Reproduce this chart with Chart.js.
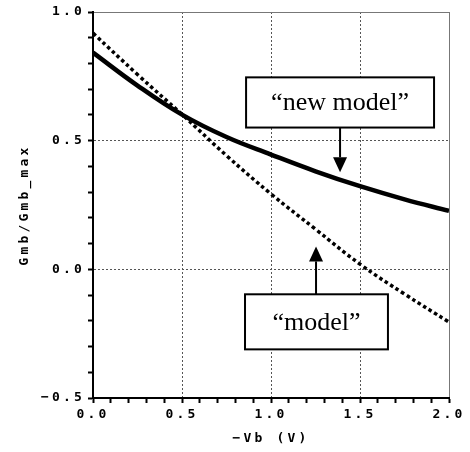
<!DOCTYPE html>
<html><head><meta charset="utf-8">
<script src="https://cdn.jsdelivr.net/npm/chart.js@4"></script>
<style>html,body{margin:0;padding:0;background:#fff}</style>
</head><body>
<canvas id="c" width="470" height="452"></canvas>
<script>
// ---- data ----
const vb = [0, 0.25, 0.5, 0.75, 1.0, 1.25, 1.5, 1.75, 2.0];
const newModel = [0.842, 0.714, 0.601, 0.514, 0.446, 0.381, 0.323, 0.272, 0.227];
const model = [0.918, 0.757, 0.602, 0.442, 0.293, 0.156, 0.020, -0.096, -0.205];
const xTickLabels = ['0.0', '0.5', '1.0', '1.5', '2.0'];
const yTickLabels = ['\u22120.5', '0.0', '0.5', '1.0'];
const seriesNames = ['“new model”', '“model”'];
const xTitle = '\u2212Vb (V)';
const yTitle = 'Gmb/Gmb_max';

// callout annotations (in data units)
const callouts = [
  {text: seriesNames[0], x0: 0.86, x1: 1.916, y0: 0.746, y1: 0.551, ax: 1.388, tip: 0.377},
  {text: seriesNames[1], x0: 0.854, x1: 1.657, y0: -0.097, y1: -0.311, ax: 1.253, tip: 0.089}
];

const MONO = '"DejaVu Sans Mono", monospace';
const isMajor = v => Math.abs(v * 2 - Math.round(v * 2)) < 1e-6;
const fmt = v => { const t = (Math.abs(v) < 1e-9 ? 0 : v).toFixed(1); return t.replace('-', '\u2212'); };

const spacing = {
  id: 'spacing',
  beforeLayout(chart) { chart.ctx.letterSpacing = '3.2px'; },
  beforeDraw(chart) { chart.ctx.letterSpacing = '3.2px'; }
};

const calloutPlugin = {
  id: 'callouts',
  afterDatasetsDraw(chart) {
    const ctx = chart.ctx, xs = chart.scales.x, ys = chart.scales.y;
    ctx.save();
    ctx.letterSpacing = '0px';
    for (const c of callouts) {
      const bx0 = xs.getPixelForValue(c.x0), bx1 = xs.getPixelForValue(c.x1);
      const by0 = ys.getPixelForValue(c.y0), by1 = ys.getPixelForValue(c.y1);
      const ax = xs.getPixelForValue(c.ax), tip = ys.getPixelForValue(c.tip);
      ctx.fillStyle = '#fff';
      ctx.fillRect(bx0, by0, bx1 - bx0, by1 - by0);
      ctx.strokeStyle = '#000';
      ctx.lineWidth = 2;
      ctx.strokeRect(bx0, by0, bx1 - bx0, by1 - by0);
      ctx.fillStyle = '#000';
      ctx.font = '26px "Liberation Serif", "Times New Roman", serif';
      ctx.textAlign = 'center';
      ctx.textBaseline = 'middle';
      ctx.fillText(c.text, (bx0 + bx1) / 2, (by0 + by1) / 2 + 1);
      const start = tip > by1 ? by1 : by0;
      const dir = tip > start ? 1 : -1;
      const hl = 15, hw = 7;
      ctx.beginPath();
      ctx.moveTo(ax, start);
      ctx.lineTo(ax, tip - dir * hl);
      ctx.stroke();
      ctx.beginPath();
      ctx.moveTo(ax, tip);
      ctx.lineTo(ax - hw, tip - dir * hl);
      ctx.lineTo(ax + hw, tip - dir * hl);
      ctx.closePath();
      ctx.fill();
    }
    ctx.restore();
  }
};

const gridColor = (edgeVal) => ctx => {
  const v = ctx.tick ? ctx.tick.value : null;
  if (v === null || !isMajor(v)) return 'rgba(0,0,0,0)';
  return Math.abs(v - edgeVal) < 1e-6 ? '#777' : '#555';
};
const gridDash = (edgeVal) => ctx => {
  const v = ctx.tick ? ctx.tick.value : null;
  if (v !== null && Math.abs(v - edgeVal) < 1e-6) return [];
  return [2, 2];
};
const tickFont = {family: MONO, size: 13, weight: 'bold'};

new Chart(document.getElementById('c'), {
  type: 'line',
  data: {
    datasets: [
      {
        label: seriesNames[0],
        data: vb.map((x, i) => ({x, y: newModel[i]})),
        borderColor: '#000', borderWidth: 4.5,
        pointRadius: 0, tension: 0.4, fill: false
      },
      {
        label: seriesNames[1],
        data: vb.map((x, i) => ({x, y: model[i]})),
        borderColor: '#000', borderWidth: 3.5, borderDash: [3.5, 3],
        pointRadius: 0, tension: 0.4, fill: false
      }
    ]
  },
  options: {
    responsive: false,
    animation: false,
    devicePixelRatio: 1,
    layout: {padding: {top: 12, right: 21, left: 0, bottom: 0}},
    plugins: {legend: {display: false}, tooltip: {enabled: false}},
    scales: {
      x: {
        type: 'linear', min: 0, max: 2,
        afterFit: s => { s.height = 54; },
        ticks: {
          stepSize: 0.1, autoSkip: false, maxRotation: 0, padding: 4,
          color: '#000', font: tickFont,
          callback: v => { const t = fmt(v); return (isMajor(v) && xTickLabels.includes(t)) ? t : ''; }
        },
        grid: {color: gridColor(2), lineWidth: 1, tickColor: '#000', tickLength: 5, tickWidth: 2},
        border: {display: true, color: '#000', width: 2, dash: gridDash(2)},
        title: {display: true, text: xTitle, color: '#000', font: tickFont, padding: {top: 0, bottom: 6}}
      },
      y: {
        type: 'linear', min: -0.5, max: 1.0,
        afterFit: s => { s.width = 93; },
        ticks: {
          stepSize: 0.1, autoSkip: false, padding: 3,
          color: '#000', font: tickFont,
          callback: v => { const t = fmt(v); return (isMajor(v) && yTickLabels.includes(t)) ? t : ''; }
        },
        grid: {color: gridColor(1), lineWidth: 1, tickColor: '#000', tickLength: 5, tickWidth: 2},
        border: {display: true, color: '#000', width: 2, dash: gridDash(1)},
        title: {display: true, text: yTitle, color: '#000', font: tickFont, padding: {top: 17, bottom: 0}}
      }
    }
  },
  plugins: [spacing, calloutPlugin]
});
</script>
</body></html>
